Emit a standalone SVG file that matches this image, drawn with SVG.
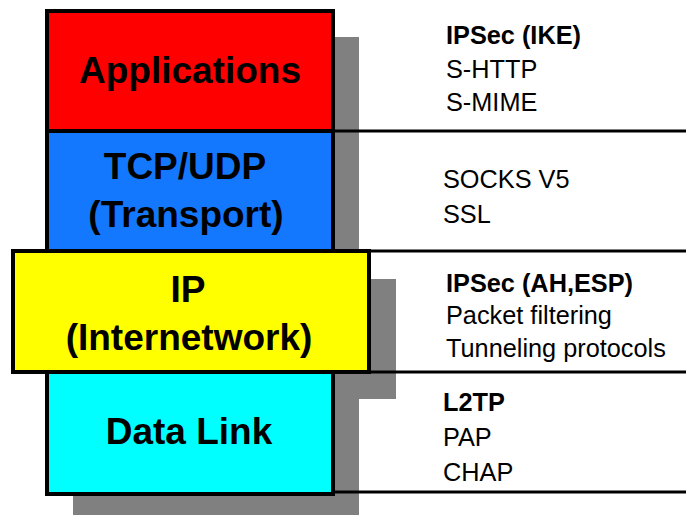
<svg xmlns="http://www.w3.org/2000/svg" width="686" height="515" viewBox="0 0 686 515">
  <style>
    .shadow { fill: #808080; }
    .layer { stroke: #000; stroke-width: 4; }
    .rule { stroke: #000; stroke-width: 3; fill: none; }
    .name { font-family: "Liberation Sans", Arial, sans-serif; font-weight: bold; font-size: 37px; text-anchor: middle; fill: #000; }
    .proto { font-family: "Liberation Sans", Arial, sans-serif; font-size: 25.3px; fill: #000; }
    .proto .b { font-weight: bold; }
  </style>

  <!-- drop shadows behind the layer stack -->
  <g id="shadows">
    <rect class="shadow" x="72" y="37" width="287" height="243"/>
    <rect class="shadow" x="70" y="279" width="326" height="120"/>
    <rect class="shadow" x="73" y="399" width="286" height="120"/>
  </g>

  <!-- rules separating the protocol columns -->
  <g id="connectors">
    <line class="rule" x1="333" y1="131" x2="686" y2="131"/>
    <line class="rule" x1="369" y1="251" x2="686" y2="251"/>
    <line class="rule" x1="369" y1="372" x2="686" y2="372"/>
    <line class="rule" x1="333" y1="492" x2="686" y2="492"/>
  </g>

  <g id="applications">
    <rect class="layer" x="47" y="11" width="286" height="120" fill="#ff0000"/>
    <text class="name" x="190" y="83">Applications</text>
  </g>

  <g id="transport">
    <rect class="layer" x="47" y="131" width="286" height="120" fill="#1478ff"/>
    <text class="name" x="185" y="179">TCP/UDP</text>
    <text class="name" x="186" y="227">(Transport)</text>
  </g>

  <g id="internetwork">
    <rect class="layer" x="13" y="251" width="356" height="121" fill="#ffff00"/>
    <text class="name" x="188" y="302">IP</text>
    <text class="name" x="189" y="350">(Internetwork)</text>
  </g>

  <g id="datalink">
    <rect class="layer" x="47" y="372" width="286" height="122" fill="#00ffff"/>
    <text class="name" x="189" y="444">Data Link</text>
  </g>

  <g id="app-protocols" class="proto">
    <text class="b" x="446" y="44">IPSec (IKE)</text>
    <text x="446" y="78">S-HTTP</text>
    <text x="446" y="111">S-MIME</text>
  </g>

  <g id="transport-protocols" class="proto">
    <text x="443" y="188">SOCKS V5</text>
    <text x="443" y="223">SSL</text>
  </g>

  <g id="ip-protocols" class="proto">
    <text class="b" x="446" y="292">IPSec (AH,ESP)</text>
    <text x="446" y="324">Packet filtering</text>
    <text x="446" y="357">Tunneling protocols</text>
  </g>

  <g id="datalink-protocols" class="proto">
    <text class="b" x="443" y="411">L2TP</text>
    <text x="443" y="446">PAP</text>
    <text x="443" y="481">CHAP</text>
  </g>
</svg>
